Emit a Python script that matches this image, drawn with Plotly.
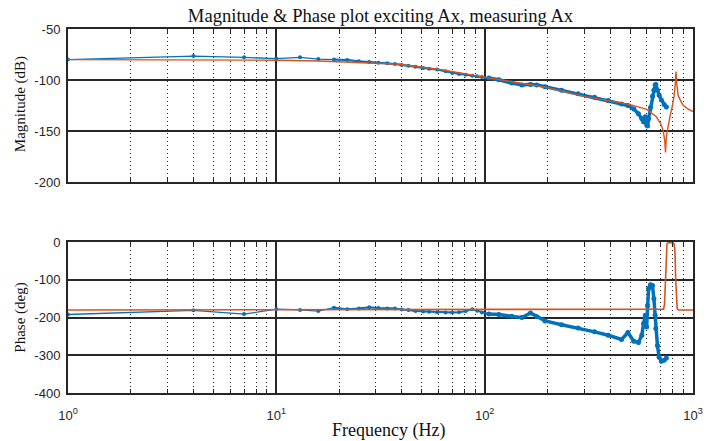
import plotly.graph_objects as go

# ---- Measured response (blue) ----
meas_freq = [1, 4, 7, 10, 13, 15.9, 18.9, 21.9, 24.9, 27.9, 30.9, 34.1, 37.1, 40, 43.1, 46.6,
             50.7, 54.1, 59.1, 64.9, 69.9, 75.3, 81.1, 87.3, 92, 97, 104.7, 117, 135, 151,
             166, 178, 195, 234, 281, 337, 392, 454, 487, 520, 547, 568, 579, 590, 599, 605,
             612, 625, 639, 649, 658, 663, 675, 688, 705, 727, 745]
meas_mag = [-80, -76.5, -77.8, -79, -77.8, -79.5, -80, -80.4, -81.7, -82.3, -83, -83.7, -84.3,
            -85.3, -86, -87, -88.3, -88.9, -89.8, -91.5, -93.1, -94.1, -94.8, -95.8, -96.3, -97,
            -98, -99.8, -103, -105, -104.3, -104.8, -106.5, -110, -113.5, -117, -120, -123.5,
            -125, -128.5, -133, -138, -141, -136, -144, -145, -138, -127, -116, -110, -105,
            -104.5, -110, -115, -119.6, -124, -126.5]
meas_phase = [-192, -181, -191, -178, -180, -183, -174, -178, -176, -173, -175, -176, -176,
              -179, -180, -183, -184, -185, -186, -187, -187, -186, -183, -178, -182, -187,
              -191, -192, -197, -200, -188, -198, -209, -219, -228, -238, -247, -258, -240,
              -263, -266, -247, -216, -194, -225, -168, -123, -113, -115, -150, -194, -229,
              -274, -305, -316, -313, -307]

# ---- Model response (orange) ----
model_mag_freq = [1, 2, 5, 10, 16, 25, 39, 60, 100, 150, 200, 300, 400, 500, 600, 667, 700,
                  720, 732, 738, 745, 760, 775, 795, 812, 822, 829, 836, 848, 870, 895, 940, 1000]
model_mag = [-80, -80.1, -80.3, -80.6, -81.4, -82.8, -84.6, -89.5, -97.2, -103, -107.5, -116,
             -120.9, -124.2, -128.8, -136, -143, -150, -160, -171, -155, -143, -136, -126, -115,
             -104, -91.8, -104, -114.7, -120, -124.5, -128, -131]

model_ph_freq = [1, 700, 722, 730, 736, 742, 750, 760, 800, 812, 820, 826, 832, 840, 850, 1000]
model_phase = [-180, -180, -178, -165, -110, -30, -5, -2, -2, -6, -30, -100, -160, -177, -180, -180]

tick_vals = [1, 10, 100, 1000]
tick_text = ["10<sup>0</sup>", "10<sup>1</sup>", "10<sup>2</sup>", "10<sup>3</sup>"]
minor_vals = [m * d for d in (1, 10, 100) for m in range(2, 10)]
mag_ticks = [-200, -150, -100, -50]
phase_ticks = [-400, -300, -200, -100, 0]

BLUE = "#0072BD"
ORANGE = "#D95319"
AX = "#262626"

W, H = 715, 441
L, R, T, B = 68, 20, 29, 48
PW, PH = W - L - R, H - T - B  # 627 x 364

fig = go.Figure()

hi = [i for i, f in enumerate(meas_freq) if f >= 100]
mid = [i for i, f in enumerate(meas_freq) if f >= 18]

for vals, xa, ya in ((meas_mag, "x", "y"), (meas_phase, "x2", "y2")):
    fig.add_trace(go.Scatter(x=meas_freq, y=vals, mode="lines+markers", xaxis=xa, yaxis=ya,
                             line=dict(color=BLUE, width=1.3),
                             marker=dict(color=BLUE, size=4), showlegend=False))
    fig.add_trace(go.Scatter(x=[meas_freq[i] for i in mid], y=[vals[i] for i in mid],
                             mode="lines", xaxis=xa, yaxis=ya,
                             line=dict(color=BLUE, width=2), showlegend=False))
    fig.add_trace(go.Scatter(x=[meas_freq[i] for i in hi], y=[vals[i] for i in hi],
                             mode="lines+markers", xaxis=xa, yaxis=ya,
                             line=dict(color=BLUE, width=3.5),
                             marker=dict(color=BLUE, size=5), showlegend=False))

fig.add_trace(go.Scatter(x=model_mag_freq, y=model_mag, mode="lines", xaxis="x", yaxis="y",
                         line=dict(color=ORANGE, width=1.4), showlegend=False))
fig.add_trace(go.Scatter(x=model_ph_freq, y=model_phase, mode="lines", xaxis="x2", yaxis="y2",
                         line=dict(color=ORANGE, width=1.6), showlegend=False))

tickfont = dict(family="Liberation Sans, Arial, sans-serif", size=13, color=AX)

xcommon = dict(type="log", range=[0, 3], tickvals=tick_vals, ticktext=tick_text,
               showgrid=True, gridcolor=AX, gridwidth=2, ticks="inside", ticklen=5,
               tickcolor=AX, showline=True, linecolor=AX, linewidth=2, mirror="allticks",
               zeroline=False, tickfont=tickfont, ticklabelstandoff=9,
               minor=dict(tickvals=minor_vals, showgrid=True, gridcolor="#222222",
                          griddash="1px,3px", gridwidth=1, ticks="inside", ticklen=4,
                          tickcolor=AX))
ycommon = dict(showgrid=True, gridcolor=AX, gridwidth=2, ticks="inside", ticklen=5,
               tickcolor=AX, showline=True, linecolor=AX, linewidth=2, mirror="allticks",
               zeroline=False, tickfont=tickfont, ticklabelstandoff=3)

fig.update_layout(
    width=W, height=H,
    margin=dict(l=L, r=R, t=T, b=B),
    plot_bgcolor="white", paper_bgcolor="white",
    xaxis=dict(xcommon, anchor="y", showticklabels=False, matches="x2"),
    yaxis=dict(ycommon, domain=[0.5797, 1.0], range=[-200, -50], tickvals=mag_ticks,
               ticktext=[str(v) for v in mag_ticks]),
    xaxis2=dict(xcommon, anchor="y2"),
    yaxis2=dict(ycommon, domain=[0.0, 0.4148], range=[-400, 0], tickvals=phase_ticks,
                ticktext=[str(v) for v in phase_ticks]),
    title=dict(text="Magnitude & Phase plot exciting Ax, measuring Ax",
               x=0.5, xref="paper", y=1 - 15.5 / H, yref="container",
               xanchor="center", yanchor="middle",
               font=dict(family="Liberation Serif, Times New Roman, serif", size=18.6, color="#111")),
)

serif_y = dict(family="Liberation Serif, Times New Roman, serif", size=15, color="#111")
serif_x = dict(family="Liberation Serif, Times New Roman, serif", size=18, color="#111")
fig.add_annotation(text="Magnitude (dB)", xref="paper", yref="paper", x=(20 - L) / PW,
                   y=(393 - 104) / PH, textangle=-90, showarrow=False, font=serif_y,
                   xanchor="center", yanchor="middle")
fig.add_annotation(text="Phase (deg)", xref="paper", yref="paper", x=(20 - L) / PW,
                   y=(393 - 317.5) / PH, textangle=-90, showarrow=False, font=serif_y,
                   xanchor="center", yanchor="middle")
fig.add_annotation(text="Frequency (Hz)", xref="paper", yref="paper", x=(390 - L) / PW,
                   y=(393 - 430) / PH, showarrow=False, font=serif_x,
                   xanchor="center", yanchor="middle")

# remove the default 8px page margin so the figure sits at the window's corner
fig.write_html("out.html", config={"displayModeBar": False},
               post_script="document.body.style.margin='0';")
